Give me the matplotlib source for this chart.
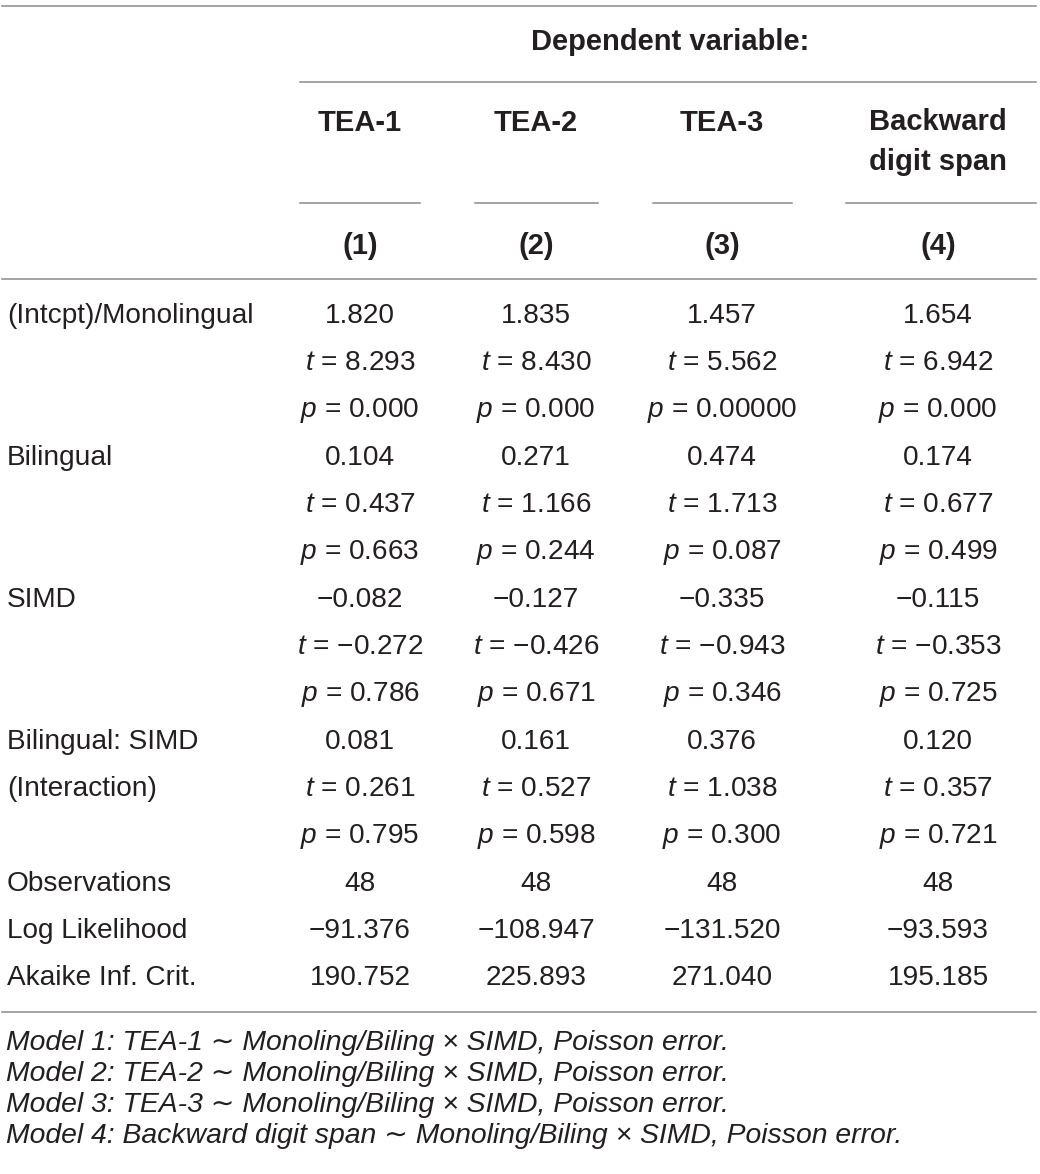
import matplotlib
matplotlib.use("Agg")
import matplotlib.pyplot as plt
from matplotlib.lines import Line2D

plt.rcParams["mathtext.fontset"] = "custom"
plt.rcParams["mathtext.it"] = "Liberation Sans:italic"
plt.rcParams["mathtext.rm"] = "Liberation Sans"

W, H = 1040, 1174
TXT = "#231f20"
LINE = "#8a8a8a"
FONT = ["Liberation Sans", "DejaVu Sans"]
FS = 20.2
FSH = 21
FSN = 20.4

header_top = "Dependent variable:"
col_names = ["TEA-1", "TEA-2", "TEA-3", "Backward\ndigit span"]
col_nums = ["(1)", "(2)", "(3)", "(4)"]

row_labels = ["(Intcpt)/Monolingual", "", "", "Bilingual", "", "", "SIMD", "", "",
              "Bilingual: SIMD", "(Interaction)", "", "Observations", "Log Likelihood",
              "Akaike Inf. Crit."]

coef_intercept = ["1.820", "1.835", "1.457", "1.654"]
t_intercept = ["8.293", "8.430", "5.562", "6.942"]
p_intercept = ["0.000", "0.000", "0.00000", "0.000"]
coef_biling = ["0.104", "0.271", "0.474", "0.174"]
t_biling = ["0.437", "1.166", "1.713", "0.677"]
p_biling = ["0.663", "0.244", "0.087", "0.499"]
coef_simd = ["\u22120.082", "\u22120.127", "\u22120.335", "\u22120.115"]
t_simd = ["\u22120.272", "\u22120.426", "\u22120.943", "\u22120.353"]
p_simd = ["0.786", "0.671", "0.346", "0.725"]
coef_inter = ["0.081", "0.161", "0.376", "0.120"]
t_inter = ["0.261", "0.527", "1.038", "0.357"]
p_inter = ["0.795", "0.598", "0.300", "0.721"]
observations = ["48", "48", "48", "48"]
log_lik = ["\u221291.376", "\u2212108.947", "\u2212131.520", "\u221293.593"]
aic = ["190.752", "225.893", "271.040", "195.185"]

notes = [
    "Model 1: TEA-1 \u223c Monoling/Biling \u00d7 SIMD, Poisson error.",
    "Model 2: TEA-2 \u223c Monoling/Biling \u00d7 SIMD, Poisson error.",
    "Model 3: TEA-3 \u223c Monoling/Biling \u00d7 SIMD, Poisson error.",
    "Model 4: Backward digit span \u223c Monoling/Biling \u00d7 SIMD, Poisson error.",
]

fig = plt.figure(figsize=(W / 100, H / 100), dpi=100)
fig.patch.set_facecolor("white")


def fx(x):
    return x / W


def fy(y):
    return 1 - y / H


def hline(x0, x1, y):
    fig.add_artist(Line2D([fx(x0), fx(x1)], [fy(y), fy(y)], color=LINE, lw=1.1,
                          transform=fig.transFigure))


def txt(x, y, s, ha="center", fs=FS, **kw):
    fig.text(fx(x), fy(y), s, ha=ha, va="center", color=TXT, fontsize=fs,
             family=FONT, **kw)


col_x = [360, 536, 722, 938]
seg = [(300, 420), (475, 598), (653, 792), (846, 1036)]

hline(2, 1036, 6)
txt(670, 42, header_top, fs=FSH, fontweight="bold")
hline(300, 1036, 82)
for x, name in zip(col_x, col_names):
    if "\n" in name:
        txt(x, 142, name, fs=FSH, fontweight="bold", linespacing=1.5)
    else:
        txt(x, 123, name, fs=FSH, fontweight="bold")
for a, b in seg:
    hline(a, b, 203)
for x, n in zip(col_x, col_nums):
    txt(x, 246, n, fs=FSH, fontweight="bold")
hline(2, 1036, 279)

row_y0, dy = 316, 47.3
cells = [
    ("c", coef_intercept), ("t", t_intercept), ("p", p_intercept),
    ("c", coef_biling), ("t", t_biling), ("p", p_biling),
    ("c", coef_simd), ("t", t_simd), ("p", p_simd),
    ("c", coef_inter), ("t", t_inter), ("p", p_inter),
    ("c", observations), ("c", log_lik), ("c", aic),
]
for i, (kind, vals) in enumerate(cells):
    y = row_y0 + i * dy
    if row_labels[i]:
        txt(7, y, row_labels[i], ha="left")
    for x, v in zip(col_x, vals):
        if kind == "c":
            txt(x, y, v)
        else:
            s = r"$\mathit{" + kind + r"}$" + " = " + v
            txt(x, y, s)

hline(2, 1036, 1012)
for j, n in enumerate(notes):
    txt(6, 1043 + j * 31, n, ha="left", fs=FSN, style="italic")

fig.savefig("out.png", dpi=100, facecolor="white")
